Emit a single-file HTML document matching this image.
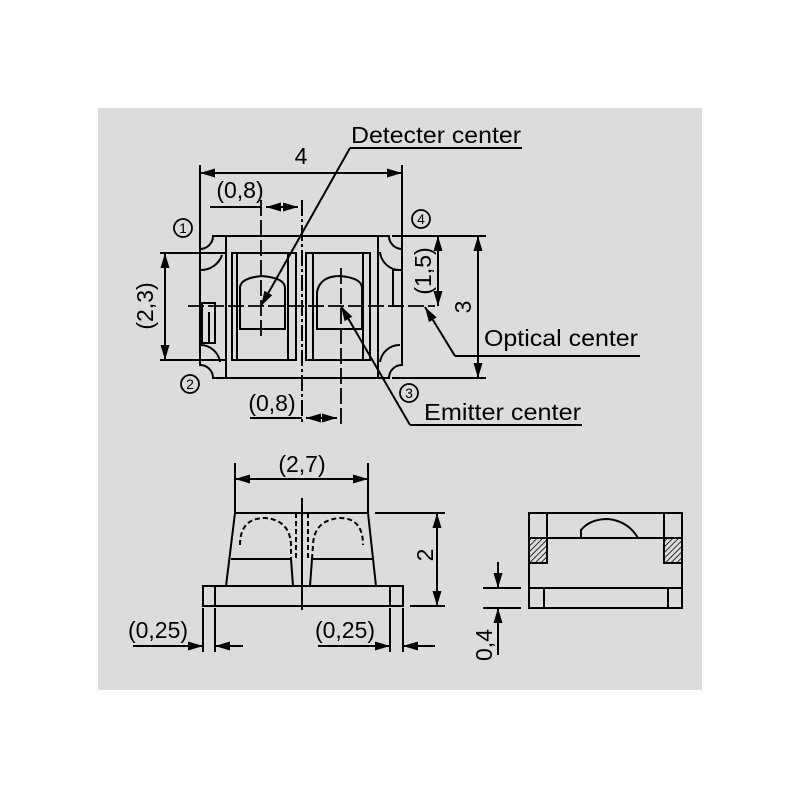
<!DOCTYPE html>
<html><head><meta charset="utf-8"><style>
html,body{margin:0;padding:0;background:#fff;}
svg{display:block;}
text{font-family:"Liberation Sans",sans-serif;fill:#000;}
</style></head><body>
<svg width="800" height="800" viewBox="0 0 800 800" xmlns="http://www.w3.org/2000/svg">
<defs>
<marker id="a" viewBox="0 0 15 9" refX="15" refY="4.5" markerWidth="15" markerHeight="9" markerUnits="userSpaceOnUse" orient="auto-start-reverse">
<path d="M0,0 L15,4.5 L0,9 Z" fill="#000"/>
</marker>
<pattern id="h" width="4" height="4" patternUnits="userSpaceOnUse" patternTransform="rotate(45)">
<rect width="4" height="4" fill="#dcdcdc"/><line x1="0" y1="0" x2="0" y2="4" stroke="#000" stroke-width="1.6"/>
</pattern>
</defs>
<rect x="98" y="108" width="604" height="582" fill="#dcdcdc"/>
<g stroke="#000" stroke-width="2" fill="none">
<path d="M215,236 H389 A13,13 0 0 0 402,249 V365 A13,13 0 0 0 389,378 H213 A13,13 0 0 0 200,365 V249 A13,13 0 0 0 213,236 Z"/>
<line x1="226" y1="236" x2="226" y2="378"/>
<line x1="378" y1="236" x2="378" y2="378"/>
<path d="M200,270 A22,22 0 0 0 222,255"/>
<path d="M200,345 A20,20 0 0 1 220,362"/>
<path d="M380,362 A20,20 0 0 1 400,345"/>
<path d="M380,252 A20,20 0 0 0 400,270"/>
<rect x="232" y="253" width="64" height="107"/>
<line x1="237" y1="253" x2="237" y2="360"/>
<line x1="288" y1="253" x2="288" y2="360"/>
<rect x="306" y="253" width="64" height="107"/>
<line x1="313" y1="253" x2="313" y2="360"/>
<line x1="363" y1="253" x2="363" y2="360"/>
<path d="M240,329 V288 Q240,278 262,276 Q285,278 285,288 V329 Z"/>
<path d="M317,329 V292 Q320,276 340,276 Q362,278 362,288 V329 Z"/>
<rect x="202" y="303" width="13" height="40"/>
<line x1="209" y1="312" x2="209" y2="343"/>
<rect x="393" y="270" width="9" height="36"/>
<line x1="302" y1="200" x2="302" y2="425" stroke-dasharray="16,3,3,3"/>
<line x1="261" y1="200" x2="261" y2="340" stroke-dasharray="16,4" stroke-width="1.8"/>
<line x1="341" y1="268" x2="341" y2="425" stroke-dasharray="16,4" stroke-width="1.8"/>
<line x1="188" y1="306" x2="435" y2="306" stroke-dasharray="16,4" stroke-width="1.8"/>
<line x1="200" y1="165" x2="200" y2="250"/>
<line x1="402" y1="165" x2="402" y2="250"/>
<line x1="200" y1="173" x2="402" y2="173" marker-start="url(#a)" marker-end="url(#a)"/>
<line x1="210" y1="207" x2="261" y2="207"/>
<line x1="266" y1="207" x2="283" y2="207" marker-start="url(#a)"/>
<line x1="281" y1="207" x2="298" y2="207" marker-end="url(#a)"/>
<line x1="250" y1="418" x2="302" y2="418"/>
<line x1="306" y1="418" x2="322" y2="418" marker-start="url(#a)"/>
<line x1="320" y1="418" x2="337" y2="418" marker-end="url(#a)"/>
<line x1="160" y1="253" x2="226" y2="253"/>
<line x1="160" y1="360" x2="226" y2="360"/>
<line x1="165" y1="253" x2="165" y2="360" marker-start="url(#a)" marker-end="url(#a)"/>
<line x1="392" y1="236" x2="486" y2="236"/>
<line x1="392" y1="378" x2="486" y2="378"/>
<line x1="438" y1="236" x2="438" y2="306" marker-start="url(#a)" marker-end="url(#a)"/>
<line x1="478" y1="236" x2="478" y2="378" marker-start="url(#a)" marker-end="url(#a)"/>
<line x1="350" y1="148" x2="522" y2="148"/>
<line x1="350" y1="148" x2="261" y2="306" marker-end="url(#a)"/>
<line x1="455" y1="356" x2="640" y2="356"/>
<line x1="455" y1="356" x2="425" y2="307" marker-end="url(#a)"/>
<line x1="410" y1="425" x2="582" y2="425"/>
<line x1="410" y1="425" x2="341" y2="306" marker-end="url(#a)"/>
<circle cx="183" cy="228" r="9" stroke-width="1.8"/>
<circle cx="190" cy="384" r="9" stroke-width="1.8"/>
<circle cx="409" cy="393" r="9" stroke-width="1.8"/>
<circle cx="421" cy="219" r="9" stroke-width="1.8"/>

<rect x="203" y="586" width="200" height="20"/>
<line x1="215" y1="586" x2="215" y2="606"/>
<line x1="390" y1="586" x2="390" y2="606"/>
<path d="M226,586 L235,513 H368 L376,586"/>
<line x1="231" y1="559" x2="291" y2="559"/>
<line x1="312" y1="559" x2="372" y2="559"/>
<line x1="291" y1="559" x2="293" y2="586"/>
<line x1="312" y1="559" x2="310" y2="586"/>
<path d="M240,545 Q240,518 265,518 Q290,520 291,545 L291,559" stroke-dasharray="5,3"/>
<path d="M312,559 L313,545 Q314,520 340,518 Q363,518 363,545" stroke-dasharray="5,3"/>
<line x1="296" y1="513" x2="296" y2="559" stroke-dasharray="5,3"/>
<line x1="308" y1="513" x2="308" y2="559" stroke-dasharray="5,3"/>
<line x1="302" y1="498" x2="302" y2="610"/>
<line x1="235" y1="463" x2="235" y2="513"/>
<line x1="368" y1="463" x2="368" y2="513"/>
<line x1="235" y1="479" x2="368" y2="479" marker-start="url(#a)" marker-end="url(#a)"/>
<line x1="375" y1="513" x2="445" y2="513"/>
<line x1="410" y1="606" x2="445" y2="606"/>
<line x1="437" y1="513" x2="437" y2="606" marker-start="url(#a)" marker-end="url(#a)"/>
<line x1="203" y1="608" x2="203" y2="652"/>
<line x1="215" y1="608" x2="215" y2="652"/>
<line x1="133" y1="646" x2="203" y2="646" marker-end="url(#a)"/>
<line x1="243" y1="646" x2="215" y2="646" marker-end="url(#a)"/>
<line x1="390" y1="608" x2="390" y2="652"/>
<line x1="403" y1="608" x2="403" y2="652"/>
<line x1="318" y1="646" x2="390" y2="646" marker-end="url(#a)"/>
<line x1="435" y1="646" x2="403" y2="646" marker-end="url(#a)"/>

<rect x="529" y="538" width="18" height="25" fill="url(#h)"/>
<rect x="664" y="538" width="18" height="25" fill="url(#h)"/>
<rect x="529" y="513" width="153" height="95"/>
<line x1="547" y1="513" x2="547" y2="563"/>
<line x1="664" y1="513" x2="664" y2="563"/>
<line x1="529" y1="538" x2="682" y2="538"/>
<line x1="529" y1="563" x2="547" y2="563"/>
<line x1="664" y1="563" x2="682" y2="563"/>
<path d="M581,538 V530 Q590,519 608,519 Q628,521 638,538"/>
<line x1="529" y1="588" x2="682" y2="588"/>
<line x1="544" y1="588" x2="544" y2="608"/>
<line x1="668" y1="588" x2="668" y2="608"/>
<line x1="483" y1="588" x2="521" y2="588"/>
<line x1="483" y1="608" x2="521" y2="608"/>
<line x1="498" y1="562" x2="498" y2="588" marker-end="url(#a)"/>
<line x1="498" y1="655" x2="498" y2="608" marker-end="url(#a)"/>
</g>
<g font-size="23">
<text x="301" y="164" text-anchor="middle">4</text>
<text x="240" y="198" text-anchor="middle">(0,8)</text>
<text x="272" y="411" text-anchor="middle">(0,8)</text>
<text x="351" y="143" textLength="170" lengthAdjust="spacingAndGlyphs">Detecter center</text>
<text x="484" y="346" textLength="154" lengthAdjust="spacingAndGlyphs">Optical center</text>
<text x="424" y="420" textLength="157" lengthAdjust="spacingAndGlyphs">Emitter center</text>
<text transform="translate(153,306) rotate(-90)" text-anchor="middle">(2,3)</text>
<text transform="translate(431,271) rotate(-90)" text-anchor="middle">(1,5)</text>
<text transform="translate(471,307) rotate(-90)" text-anchor="middle">3</text>
<text x="302" y="472" text-anchor="middle">(2,7)</text>
<text transform="translate(433,555) rotate(-90)" text-anchor="middle">2</text>
<text x="158" y="638" text-anchor="middle">(0,25)</text>
<text x="345" y="638" text-anchor="middle">(0,25)</text>
<text transform="translate(492,645) rotate(-90)" text-anchor="middle">0,4</text>
</g>
<g font-size="14" text-anchor="middle">
<text x="183" y="233">1</text>
<text x="190" y="389">2</text>
<text x="409" y="398">3</text>
<text x="421" y="224">4</text>
</g>
</svg>
</body></html>
